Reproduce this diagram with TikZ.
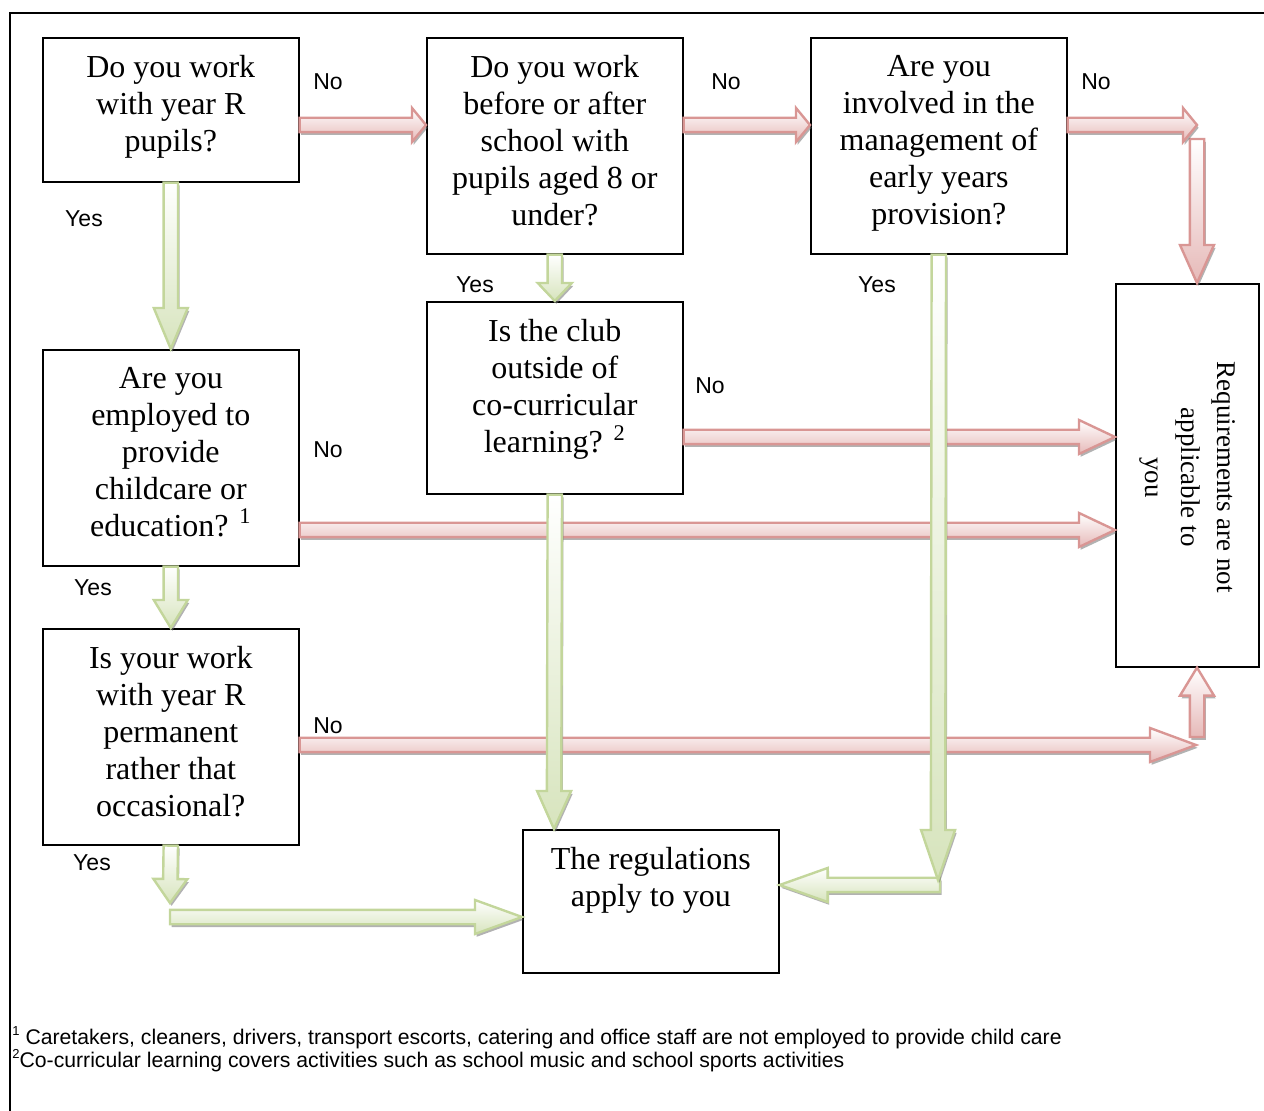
\documentclass[tikz,border=0pt]{standalone}
\usepackage{fontspec}
\setmainfont{Liberation Serif}
\setsansfont{Liberation Sans}
\usetikzlibrary{calc}
\usetikzlibrary{shadows}
\usetikzlibrary{positioning}
\definecolor{gline}{HTML}{C3D69B}
\definecolor{gfill}{HTML}{D7E4BD}
\definecolor{rline}{HTML}{D99694}
\definecolor{rfill}{HTML}{E6B9B8}
\tikzset{qbox/.style = {draw, line width=0.8pt, anchor=north west, inner sep=0pt,
                        minimum width=128pt},
         qtext/.style = {anchor=north, inner sep=0pt, align=center,
                         font=\fontsize{16}{18.5}\selectfont},
         answer/.style = {inner sep=0pt, font=\sffamily\fontsize{11.5}{13}\selectfont},
         note/.style = {anchor=west, inner sep=0pt, font=\sffamily\fontsize{10.6}{12}\selectfont},
         barrow/.style = {line width=1.2pt,
                          drop shadow={shadow xshift=0.8pt, shadow yshift=-1.4pt,
                                       fill=black!55, opacity=0.55}},
         yesarrow/.style = {barrow, draw=gline, top color=white, bottom color=gfill},
         noarrow/.style = {barrow, draw=rline, top color=white, bottom color=rfill}}
\newcommand\fnmark[1]{\raisebox{0.8ex}{\fontsize{6.5}{7}\selectfont #1}}
% block arrow: style, head length, from, to
\newcommand\blockarrow[4]{%
  \path ($(#4)!#2!(#3)$) coordinate (hb);
  \path [#1] ($(#3)!3.6pt!90:(#4)$) -- ($(hb)!3.6pt!-90:(#3)$) -- ($(hb)!8.5pt!-90:(#3)$)
    -- (#4) -- ($(hb)!8.5pt!90:(#3)$) -- ($(hb)!3.6pt!90:(#3)$) -- ($(#3)!3.6pt!-90:(#4)$) -- cycle;
}

\begin{document}
\begin{tikzpicture}[x=0.5pt, y=-0.5pt]
    \useasboundingbox (0, 0) rectangle (1264, 1111);
    \draw [line width=1pt] (10, 1111) -- (10, 13) -- (1264, 13);

    % question boxes
    \node [qbox, minimum height=72pt] (q1) at (42, 37) {};
    \node [qbox, minimum height=108pt] (q2) at (426, 37) {};
    \node [qbox, minimum height=108pt] (q3) at (810, 37) {};
    \node [qbox, minimum width=71.5pt, minimum height=191.5pt] (q4) at (1115, 283) {};
    \node [qbox, minimum height=96pt] (q5) at (426, 301) {};
    \node [qbox, minimum height=108pt] (q6) at (42, 349) {};
    \node [qbox, minimum height=108pt] (q7) at (42, 628) {};
    \node [qbox, minimum height=71.5pt] (q8) at (522, 829) {};

    \node [qtext] (t1) at ($(q1.north)+(0, 18)$) {Do you work\\with year R\\pupils?};
    \node [qtext] (t2) at ($(q2.north)+(0, 18)$) {Do you work\\before or after\\school with\\pupils aged 8 or\\under?};
    \node [qtext] (t3) at ($(q3.north)+(0, 18)$) {Are you\\involved in the\\management of\\early years\\provision?};
    \node [qtext, anchor=center, rotate=-90, font=\fontsize{13.5}{18}\selectfont] (t4) at ($(q4.center)+(0, 2)$) {Requirements are not\\applicable to\\you};
    \node [qtext] (t5) at ($(q5.north)+(0, 18)$) {Is the club\\outside of\\co-curricular\\learning? \textsuperscript{2}};
    \node [qtext] (t6) at ($(q6.north)+(0, 18)$) {Are you\\employed to\\provide\\childcare or\\education? \textsuperscript{1}};
    \node [qtext] (t7) at ($(q7.north)+(0, 18)$) {Is your work\\with year R\\permanent\\rather that\\occasional?};
    \node [qtext] (t8) at ($(q8.north)+(0, 18)$) {The regulations\\apply to you};

    % bends
    \coordinate (c1) at (1197, 125);
    \coordinate (c2) at (1196, 745);
    \coordinate (c3) at (170, 903);
    \coordinate (c4) at (938, 880);

    % no arrows
    \blockarrow{noarrow}{7pt}{$(q1.north east)+(0, 88)$}{$(q2.north west)+(0, 88)$}
    \blockarrow{noarrow}{7pt}{$(q2.north east)+(0, 88)$}{$(q3.north west)+(0, 88)$}
    \blockarrow{noarrow}{19pt}{$(c1)+(0, 14)$}{$(q4.north west)+(82, 0)$}
    \blockarrow{noarrow}{7pt}{$(q3.north east)+(0, 88)$}{c1}
    \blockarrow{noarrow}{18pt}{$(q5.north east)+(0, 136)$}{$(q4.north west)+(0, 154)$}
    \blockarrow{noarrow}{18pt}{$(q6.north east)+(0, 181)$}{$(q4.north west)+(0, 247)$}
    \blockarrow{noarrow}{14pt}{$(c2)+(1, -8)$}{$(q4.south west)+(82, 0)$}
    \blockarrow{noarrow}{23pt}{$(q7.north east)+(0, 117)$}{c2}

    % yes arrows
    \blockarrow{yesarrow}{20.5pt}{q1.south}{q6.north}
    \blockarrow{yesarrow}{14pt}{q6.south}{q7.north}
    \blockarrow{yesarrow}{12pt}{q7.south}{c3}
    \blockarrow{yesarrow}{23.5pt}{$(c3)+(0, 14)$}{$(q8.north west)+(0, 88)$}
    \blockarrow{yesarrow}{9pt}{q2.south}{q5.north}
    \blockarrow{yesarrow}{19pt}{q5.south}{$(q8.north west)+(32, 0)$}
    \blockarrow{yesarrow}{24pt}{$(c4)+(2, 5)$}{$(q8.north east)+(0, 56)$}
    \blockarrow{yesarrow}{25pt}{q3.south}{c4}

    % answers
    \node [answer] (l1) at (328, 82) {No};
    \node [answer] (l2) at (726, 82) {No};
    \node [answer] (l3) at (1096, 82) {No};
    \node [answer] (l4) at (84, 219) {Yes};
    \node [answer] (l5) at (475, 285) {Yes};
    \node [answer] (l6) at (877, 285) {Yes};
    \node [answer] (l7) at (710, 386) {No};
    \node [answer] (l8) at (328, 450) {No};
    \node [answer] (l9) at (93, 588) {Yes};
    \node [answer] (l10) at (328, 726) {No};
    \node [answer] (l11) at (92, 863) {Yes};

    \node [note] (n1) at (12, 1038) {\fnmark{1} Caretakers, cleaners, drivers, transport escorts, catering and office staff are not employed to provide child care};
    \node [note] (n2) at (12, 1061) {\fnmark{2}Co-curricular learning covers activities such as school music and school sports activities};
  \end{tikzpicture}
\end{document}
